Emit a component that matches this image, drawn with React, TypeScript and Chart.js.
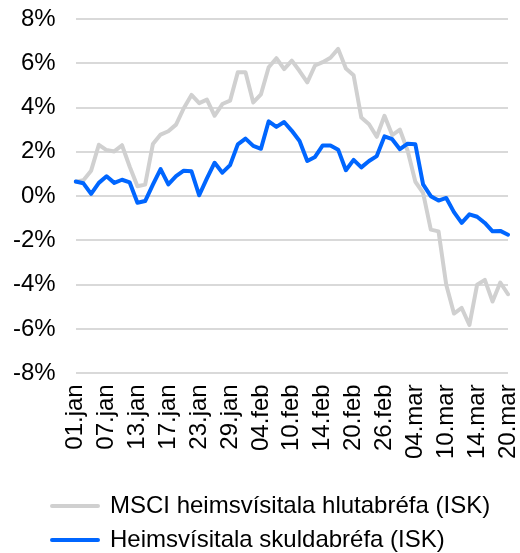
import { useEffect, useRef } from 'react';
import { Chart, registerables } from 'chart.js';

Chart.register(...registerables);

const categories = [
  '01.jan', '02.jan', '03.jan', '06.jan', '07.jan', '08.jan', '09.jan', '10.jan',
  '13.jan', '14.jan', '15.jan', '16.jan', '17.jan', '20.jan', '21.jan', '22.jan',
  '23.jan', '24.jan', '27.jan', '28.jan', '29.jan', '30.jan', '31.jan', '03.feb',
  '04.feb', '05.feb', '06.feb', '07.feb', '10.feb', '11.feb', '12.feb', '13.feb',
  '14.feb', '17.feb', '18.feb', '19.feb', '20.feb', '21.feb', '24.feb', '25.feb',
  '26.feb', '27.feb', '28.feb', '02.mar', '04.mar', '05.mar', '06.mar', '09.mar',
  '10.mar', '11.mar', '12.mar', '13.mar', '14.mar', '16.mar', '17.mar', '18.mar',
  '20.mar',
];

const msciWorldEquity = [
  0.65, 0.72, 1.15, 2.32, 2.08, 2.02, 2.3, 1.33, 0.45, 0.52, 2.35, 2.78, 2.93, 3.23,
  3.97, 4.57, 4.2, 4.36, 3.63, 4.16, 4.31, 5.59, 5.59, 4.23, 4.6, 5.82, 6.23, 5.74,
  6.12, 5.65, 5.14, 5.9, 6.05, 6.25, 6.65, 5.76, 5.46, 3.55, 3.25, 2.68, 3.63, 2.76,
  3.0, 2.05, 0.65, 0.15, -1.51, -1.59, -4.0, -5.3, -5.05, -5.82, -4.0, -3.78, -4.76,
  -3.9, -4.43,
];

const worldBondIndex = [
  0.66, 0.58, 0.1, 0.6, 0.9, 0.6, 0.74, 0.62, -0.3, -0.22, 0.52, 1.22, 0.53, 0.9,
  1.15, 1.12, 0.04, 0.8, 1.51, 1.06, 1.4, 2.34, 2.6, 2.27, 2.14, 3.38, 3.13, 3.35,
  2.95, 2.49, 1.59, 1.77, 2.29, 2.29, 2.1, 1.17, 1.64, 1.3, 1.59, 1.81, 2.7, 2.57,
  2.12, 2.37, 2.34, 0.53, 0.0, -0.2, -0.08, -0.72, -1.21, -0.82, -0.93, -1.21, -1.59,
  -1.57, -1.74,
];

const seriesNames = ['MSCI heimsvísitala hlutabréfa (ISK)', 'Heimsvísitala skuldabréfa (ISK)'];
const yAxisMin = -8;
const yAxisMax = 8;
const yAxisStep = 2;
const labelEvery = 4;

export default function App() {
  const ref = useRef<HTMLCanvasElement>(null);

  useEffect(() => {
    document.body.style.margin = '0';
    const family = "'Liberation Sans', Arial, Helvetica, sans-serif";
    const chart = new Chart(ref.current as HTMLCanvasElement, {
      type: 'line',
      data: {
        labels: categories,
        datasets: [
          {
            label: seriesNames[0],
            data: msciWorldEquity,
            borderColor: '#D0D0D0',
            backgroundColor: '#D0D0D0',
            borderWidth: 4,
            pointRadius: 0,
            tension: 0,
            borderCapStyle: 'round',
            borderJoinStyle: 'round',
            order: 1,
          },
          {
            label: seriesNames[1],
            data: worldBondIndex,
            borderColor: '#0066FF',
            backgroundColor: '#0066FF',
            borderWidth: 4,
            pointRadius: 0,
            tension: 0,
            borderCapStyle: 'round',
            borderJoinStyle: 'round',
            order: 0,
          },
        ],
      },
      options: {
        responsive: false,
        animation: false,
        devicePixelRatio: 1,
        layout: { padding: { top: 19, left: 13, right: 6, bottom: 16 } },
        scales: {
          x: {
            grid: {
              display: true,
              drawOnChartArea: false,
              drawTicks: true,
              tickLength: 11,
              color: 'transparent',
              tickColor: 'transparent',
            },
            border: { display: false },
            ticks: {
              autoSkip: false,
              maxRotation: 90,
              minRotation: 90,
              padding: 0,
              color: '#000',
              font: { family, size: 24, lineHeight: 0.5 },
              callback: (_v: any, i: number) => (i % labelEvery === 0 ? categories[i] : ''),
            },
          },
          y: {
            min: yAxisMin,
            max: yAxisMax,
            grid: {
              color: '#D9D9D9',
              lineWidth: 2,
              drawTicks: true,
              tickLength: 20,
              tickColor: 'transparent',
            },
            border: { display: false },
            ticks: {
              stepSize: yAxisStep,
              padding: 0,
              color: '#000',
              font: { family, size: 24 },
              callback: (v: any) => `${v}%`,
            },
          },
        },
        plugins: {
          legend: {
            position: 'bottom',
            align: 'start',
            labels: {
              boxWidth: 46,
              boxHeight: 0,
              padding: 10,
              color: '#000',
              font: { family, size: 24 },
              sort: (a: any, b: any) => a.datasetIndex - b.datasetIndex,
            },
          },
          tooltip: { enabled: false },
        },
      },
      plugins: [
        {
          id: 'legendPlacement',
          afterLayout(c: any) {
            const lg = c.legend;
            if (!lg) return;
            const w = lg.right - lg.left;
            const h = lg.bottom - lg.top;
            lg.left = 42;
            lg.right = 42 + w;
            lg.top = 484;
            lg.bottom = 484 + h;
          },
        },
      ],
    } as any);
    return () => chart.destroy();
  }, []);

  return <canvas ref={ref} width={520} height={553} style={{ display: 'block' }} />;
}
